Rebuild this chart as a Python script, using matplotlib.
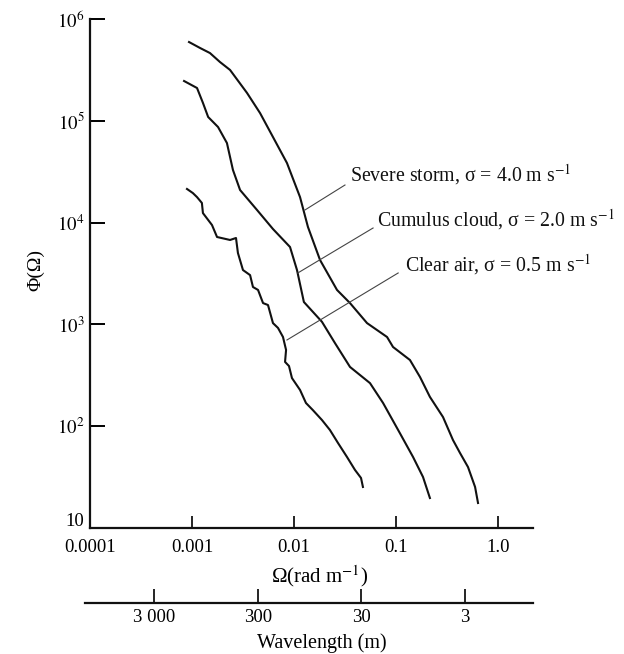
import numpy as np
import matplotlib
matplotlib.use("Agg")
from matplotlib import pyplot as plt
from matplotlib import transforms

plt.rcParams['font.family'] = ['Liberation Serif', 'DejaVu Serif']
plt.rcParams['mathtext.fontset'] = 'stix'

# spectra: Omega (rad/m) and Phi(Omega)
storm_omega = [0.000935, 0.0012, 0.0015, 0.00188, 0.00236, 0.00346, 0.00465, 0.00622, 0.00853,
               0.01146, 0.0137, 0.018, 0.0264, 0.0354, 0.052, 0.0817, 0.0935, 0.137, 0.172,
               0.215, 0.289, 0.362, 0.424, 0.508, 0.596, 0.637]
storm_phi = [5.94e5, 5.19e5, 4.63e5, 3.78e5, 3.16e5, 1.88e5, 1.19e5, 6.93e4, 3.85e4,
             1.78e4, 9060, 4290, 2180, 1620, 1030, 752, 600, 447, 304,
             194, 123, 73.1, 54.6, 39.7, 25.3, 17.6]

cumulus_omega = [0.000836, 0.00112, 0.00128, 0.00144, 0.0018, 0.0022, 0.00252, 0.00296,
                 0.00434, 0.00622, 0.00914, 0.0107, 0.0125, 0.0188, 0.0252, 0.0354,
                 0.0556, 0.0747, 0.109, 0.147, 0.184, 0.215]
cumulus_phi = [2.46e5, 2.10e5, 1.50e5, 1.09e5, 8.69e4, 6.05e4, 3.29e4, 2.09e4,
               1.33e4, 8650, 5760, 3420, 1660, 1060, 656, 382,
               265, 169, 85.7, 49.8, 31.7, 19.7]

clear_omega = [0.000893, 0.00102, 0.00112, 0.00125, 0.00128, 0.00157, 0.00176, 0.00236,
               0.0027, 0.00282, 0.00316, 0.00371, 0.00396, 0.00444, 0.00497, 0.00556,
               0.00622, 0.00697, 0.0078, 0.00836, 0.00817, 0.00893, 0.00955, 0.01146,
               0.0131, 0.0153, 0.0188, 0.0225, 0.027, 0.0331, 0.0396, 0.0454, 0.0474]
clear_phi = [2.14e4, 1.95e4, 1.78e4, 1.56e4, 1.24e4, 9470, 7220, 6750,
             7060, 5030, 3420, 3050, 2330, 2180, 1620, 1550,
             1030, 923, 752, 561, 428, 390, 297, 227,
             169, 144, 115, 91.8, 68.4, 49.8, 37.2, 31.0, 25.3]

labels = ["Severe storm, σ = 4.0 m s$^{-1}$",
          "Cumulus cloud, σ = 2.0 m s$^{-1}$",
          "Clear air, σ = 0.5 m s$^{-1}$"]
# leader line: point on curve -> end near label, then label anchor
leader_start = [(0.0128, 1.33e4), (0.0109, 3200), (0.00853, 703)]
leader_end = [(0.0316, 2.34e4), (0.0596, 8850), (0.105, 3200)]
label_pos = [(0.0354, 2.94e4), (0.0651, 1.06e4), (0.122, 3830)]

omega_ticks = [0.0001, 0.001, 0.01, 0.1, 1.0]
omega_ticklabels = ["0.0001", "0.001", "0.01", "0.1", "1.0"]
phi_ticks = [10, 1e2, 1e3, 1e4, 1e5, 1e6]
phi_ticklabels = ["10", "$10^2$", "$10^3$", "$10^4$", "$10^5$", "$10^6$"]
wl_ticks = [3000, 300, 30, 3]
wl_ticklabels = ["3 000", "300", "30", "3"]

W, H = 624, 654
fig = plt.figure(figsize=(W / 100, H / 100), dpi=100)

ax = fig.add_axes([90 / W, 1 - 528 / H, 443 / W, 509 / H])
ax.set_xscale('log')
ax.set_yscale('log')
ax.set_xlim(1e-4, 10 ** ((533 - 90) / 102 - 4))
ax.set_ylim(10, 1e6)

for om, ph in [(storm_omega, storm_phi), (cumulus_omega, cumulus_phi), (clear_omega, clear_phi)]:
    ax.plot(om, ph, color='#111111', lw=1.5, solid_joinstyle='round')

for s, e, p, t in zip(leader_start, leader_end, label_pos, labels):
    ax.plot([s[0], e[0]], [s[1], e[1]], color='#444444', lw=0.8)
    ax.text(p[0], p[1], t, fontsize=14.3, va='center', ha='left', color='#111111')

for side in ['top', 'right']:
    ax.spines[side].set_visible(False)
for side in ['left', 'bottom']:
    ax.spines[side].set_linewidth(1.6)
    ax.spines[side].set_color('#111111')

ax.set_xticks(omega_ticks)
ax.set_xticklabels(omega_ticklabels)
ax.set_yticks(phi_ticks)
ax.set_yticklabels(phi_ticklabels)
ax.minorticks_off()
ax.tick_params(axis='x', direction='in', length=9, width=1.2, pad=8, labelsize=13.5)
ax.tick_params(axis='y', direction='in', length=11, width=1.4, pad=4, labelsize=13.5)

# the bottom "10" sits a little above its tick in the original
lab10 = ax.get_yticklabels()[0]
lab10.set_transform(lab10.get_transform() + transforms.ScaledTranslation(0, 6 / 72, fig.dpi_scale_trans))

# wavelength scale below
ax2 = fig.add_axes([85 / W, 1 - 603 / H, 448 / W, 0.001])
ax2.set_xscale('log')
ax2.set_xlim(13900, 0.662)
ax2.set_yticks([])
for side in ['top', 'right', 'left']:
    ax2.spines[side].set_visible(False)
ax2.spines['bottom'].set_linewidth(1.6)
ax2.spines['bottom'].set_color('#111111')
ax2.set_xticks(wl_ticks)
ax2.set_xticklabels(wl_ticklabels)
ax2.minorticks_off()
ax2.tick_params(axis='x', direction='in', length=10, width=1.2, pad=4, labelsize=13.5)

fig.text(320 / W, 1 - 576 / H, "Ω(rad m$^{-1}$)", ha='center', va='center', fontsize=15)
fig.text(322 / W, 1 - 643 / H, "Wavelength (m)", ha='center', va='center', fontsize=14.5)
fig.text(36 / W, 1 - 270 / H, "Φ(Ω)", ha='center', va='center', fontsize=14, rotation=90)

fig.savefig("out.png", dpi=100)
